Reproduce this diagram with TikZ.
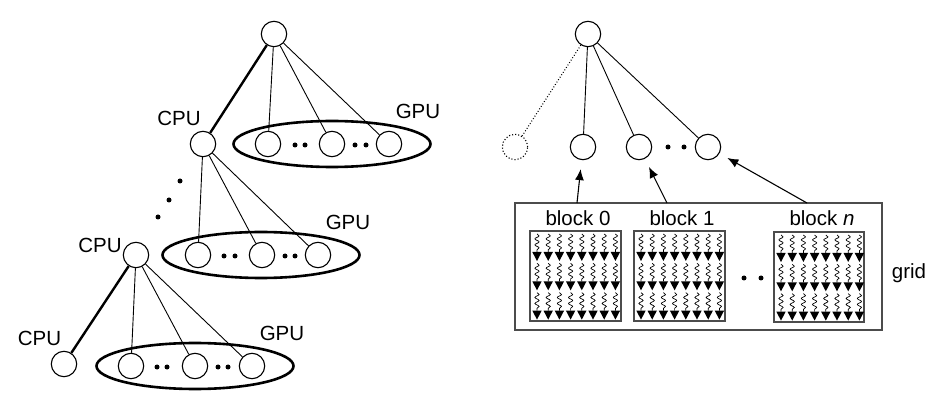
\documentclass[tikz,border=0pt]{standalone}
\usepackage{fontspec}
\setmainfont{Liberation Sans}
\usetikzlibrary{arrows.meta,decorations.pathmorphing,shapes.geometric}
\newcommand{\mythreads}[2]{%
  \foreach \i in {0,...,7}{%
    \foreach \j in {0,1,2}{%
      \pgfmathsetmacro{\xx}{#1+7+11.2*\i}%
      \pgfmathsetmacro{\ya}{#2+3+29.3*\j}%
      \pgfmathsetmacro{\yb}{#2+21+29.3*\j}%
      \draw[wav] (\xx,\ya) -- (\xx,\yb);
      \fill (\xx-4.7,\yb) -- (\xx+4.7,\yb) -- (\xx,\yb+9) -- cycle;
    }}}
\begin{document}
\begin{tikzpicture}[x=1pt,y=-1pt,
  nd/.style={circle,draw,line width=1.1pt,minimum size=25.4pt,inner sep=0pt},
  dnd/.style={nd,dotted},
  lk/.style={line width=0.9pt},
  strong/.style={line width=2.4pt},
  grp/.style={ellipse,draw,line width=2.6pt,minimum width=197pt,minimum height=46pt,inner sep=0pt},
  lbl/.style={font=\fontsize{20.5}{24}\selectfont,inner sep=0pt,anchor=base},
  box/.style={rectangle,draw=black!70,line width=1.4pt,inner sep=0pt},
  wav/.style={line width=0.7pt,decorate,decoration={snake,amplitude=2.1pt,segment length=6pt}},
  arr/.style={line width=1.1pt,-{Latex[length=11pt,width=9pt]},shorten >=9pt},
  dt/.style={fill=black}
]
\useasboundingbox (0,0) rectangle (938,406);

% ---------- left hierarchy ----------
\node[nd] (t0) at (274,34) {};
\node[nd] (c1) at (203,144) {};
\node[grp] (e1) at (332,144) {};
\node[nd] (g11) at (268,144) {};
\node[nd] (g12) at (332,144) {};
\node[nd] (g13) at (389,144) {};
\fill[dt] (295,145) circle (2.5) (305,145) circle (2.5) (355,145) circle (2.5) (366,145) circle (2.5);
\node[lbl] (lc1) at (179,125.5) {CPU};
\node[lbl] (lg1) at (418,118.5) {GPU};
\draw[strong] (t0) -- (c1);
\draw[lk] (t0) -- (g11);
\draw[lk] (t0) -- (g12);
\draw[lk] (t0) -- (g13);

\fill[dt] (180,181) circle (2.5) (169,200) circle (2.5) (158,217) circle (2.5);

\node[nd] (c2) at (136,255) {};
\node[grp] (e2) at (261,255) {};
\node[nd] (g21) at (198,255) {};
\node[nd] (g22) at (262,255) {};
\node[nd] (g23) at (318,255) {};
\fill[dt] (224,256) circle (2.5) (235,256) circle (2.5) (285,256) circle (2.5) (295,256) circle (2.5);
\node[lbl] (lc2) at (100,252.3) {CPU};
\node[lbl] (lg2) at (348,230) {GPU};
\draw[lk] (c1) -- (g21);
\draw[lk] (c1) -- (g22);
\draw[lk] (c1) -- (g23);

\node[nd] (c3) at (64,364) {};
\node[grp] (e3) at (195,366) {};
\node[nd] (g31) at (131,366) {};
\node[nd] (g32) at (195,366) {};
\node[nd] (g33) at (252,366) {};
\fill[dt] (157,367) circle (2.5) (167,367) circle (2.5) (218,367) circle (2.5) (228,367) circle (2.5);
\node[lbl] (lc3) at (39.5,345.5) {CPU};
\node[lbl] (lg3) at (282,340.5) {GPU};
\draw[strong] (c2) -- (c3);
\draw[lk] (c2) -- (g31);
\draw[lk] (c2) -- (g32);
\draw[lk] (c2) -- (g33);

% ---------- right hierarchy ----------
\node[nd] (r0) at (588,34) {};
\node[dnd] (rd) at (515,147) {};
\node[nd] (r1) at (583,147) {};
\node[nd] (r2) at (639,147) {};
\node[nd] (r3) at (708,147) {};
\fill[dt] (668,147) circle (2.5) (684,147) circle (2.5);
\draw[lk,dotted,line width=1.1pt] (r0) -- (rd);
\draw[lk] (r0) -- (r1);
\draw[lk] (r0) -- (r2);
\draw[lk] (r0) -- (r3);

% grid
\node[box,minimum width=367pt,minimum height=127pt] (grid) at (698.5,266.5) {};
\node[lbl] (lgrid) at (909,279) {grid};
\node[box,minimum width=91pt,minimum height=90pt] (b0) at (575.5,276) {};
\node[box,minimum width=91pt,minimum height=90pt] (b1) at (679.5,276) {};
\node[box,minimum width=90pt,minimum height=90pt] (bn) at (819,277) {};
\node[lbl] (lb0) at (578,225.7) {block 0};
\node[lbl] (lb1) at (682,225.7) {block 1};
\node[lbl] (lbn) at (822,225.7) {block \textit{n}};
\mythreads{530}{231}
\mythreads{634}{231}
\mythreads{774}{232}
\fill[dt] (744,278) circle (2.5) (761,278) circle (2.5);

\coordinate (a1) at (577,203);
\coordinate (a2) at (667,203);
\coordinate (a3) at (807,203);
\draw[arr] (a1) -- (r1);
\draw[arr] (a2) -- (r2);
\draw[arr] (a3) -- (r3);
\end{tikzpicture}
\end{document}
